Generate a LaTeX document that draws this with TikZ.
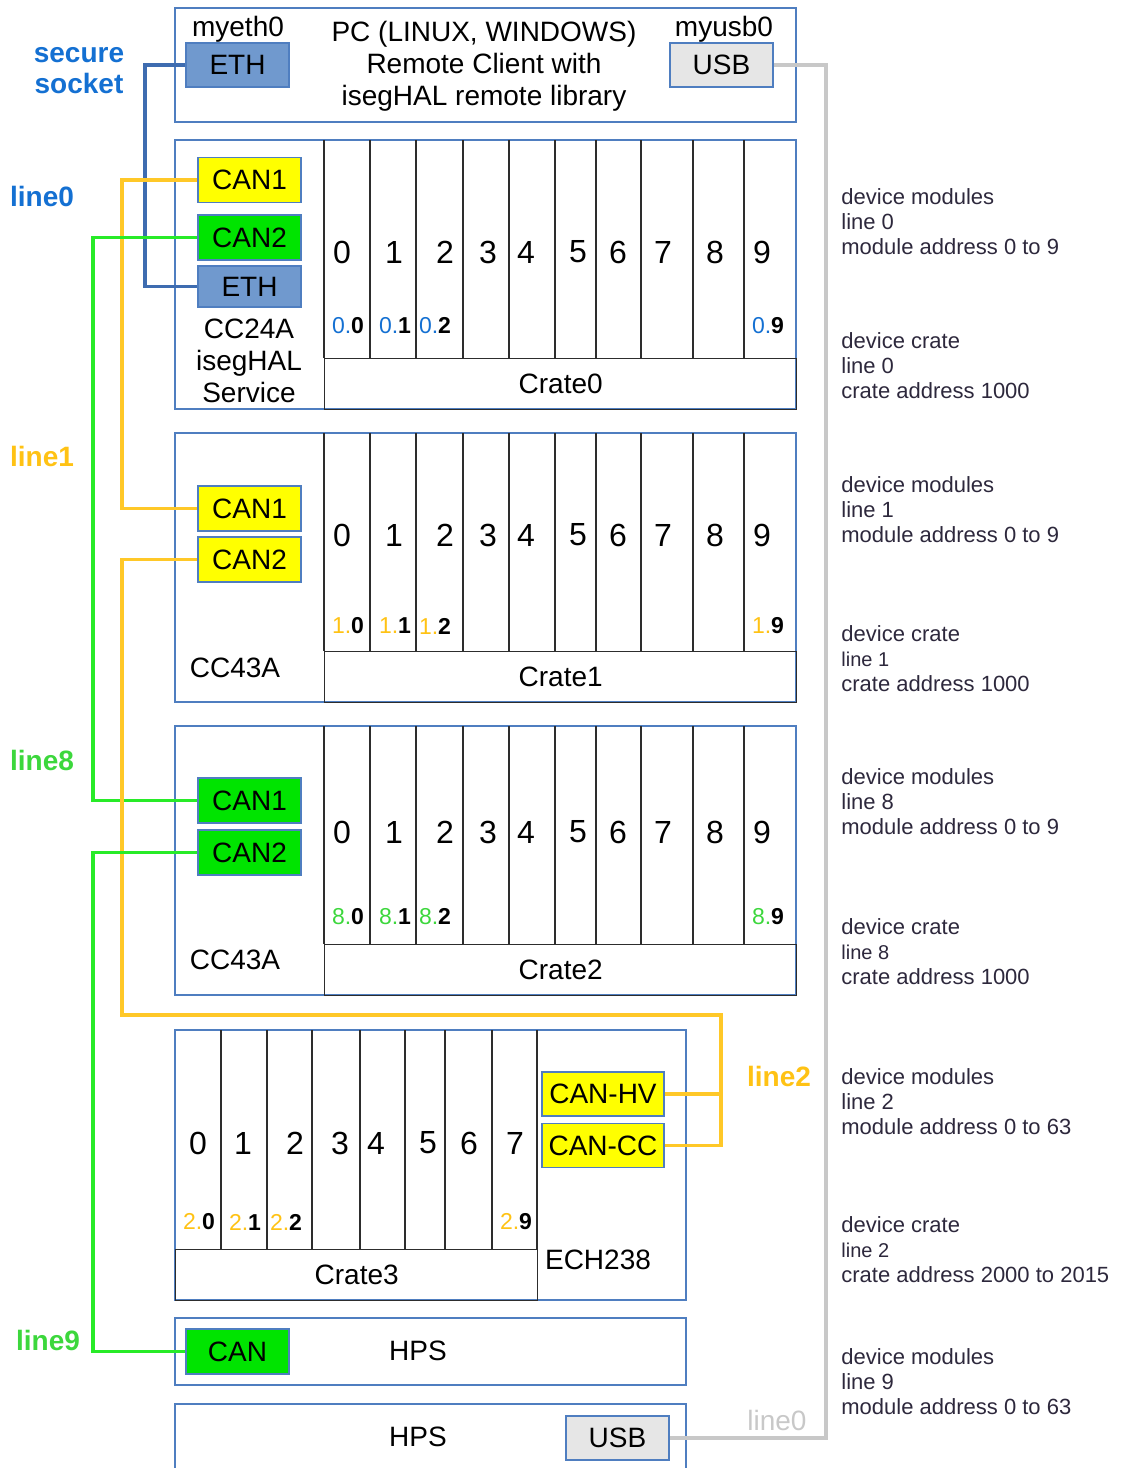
\documentclass[tikz,border=0pt]{standalone}
\usepackage{fontspec}
\setmainfont{Liberation Sans}
\usetikzlibrary{positioning}
\definecolor{frameblue}{RGB}{79,126,192}
\definecolor{ethblue}{RGB}{112,153,206}
\definecolor{wireblue}{RGB}{62,108,176}
\definecolor{canyellow}{RGB}{255,255,0}
\definecolor{cangreen}{RGB}{0,228,0}
\definecolor{wireyellow}{RGB}{255,200,40}
\definecolor{wiregreen}{RGB}{40,235,40}
\definecolor{usbgray}{RGB}{230,230,230}
\definecolor{wiregray}{RGB}{200,200,200}
\definecolor{labelblue}{RGB}{20,112,210}
\definecolor{textyellow}{RGB}{255,194,20}
\definecolor{textgreen}{RGB}{60,215,60}
\definecolor{slotgray}{RGB}{45,45,45}
\definecolor{notegray}{RGB}{45,40,60}

\begin{document}
\begin{tikzpicture}[x=0.5pt, y=-0.5pt,
    port/.style={draw=frameblue, line width=0.8pt, minimum width=51.5pt, minimum height=22.5pt,
                 inner sep=0pt, font=\fontsize{14}{14}\selectfont},
    yport/.style={port, fill=canyellow},
    gport/.style={port, fill=cangreen},
    eport/.style={port, fill=ethblue},
    uport/.style={port, fill=usbgray},
    frame/.style={draw=frameblue, line width=0.6pt},
    slot/.style={draw=slotgray, line width=0.7pt},
    wire/.style={line width=1.9pt},
    txt/.style={font=\fontsize{14}{16}\selectfont, align=center, inner sep=0pt},
    digit/.style={font=\fontsize{16}{16}\selectfont, inner sep=0pt},
    addr/.style={font=\fontsize{11.5}{12}\selectfont, inner sep=0pt},
    note/.style={font=\fontsize{11}{12.5}\selectfont, text=notegray, align=left, anchor=north west, inner sep=0pt},
    tag/.style={font=\bfseries\fontsize{14}{15.5}\selectfont, align=center, inner sep=0pt}]
    \useasboundingbox (0,0) rectangle (1120,1468);

    % frames
    \draw[frame] (175,8) rectangle (796,122);
    \draw[frame] (175,140) rectangle (796,409);
    \draw[frame] (175,433) rectangle (796,702);
    \draw[frame] (175,726) rectangle (796,995);
    \draw[frame] (175,1030) rectangle (686,1300);
    \draw[frame] (175,1318) rectangle (686,1385);
    \draw[frame] (175,1404) rectangle (686,1490);

    % crates with ten slots
    \foreach \top/\dy/\sy/\lab/\col/\pre in {140/252/326/Crate0/labelblue/0,
        433/535/626/Crate1/textyellow/1, 726/832/917/Crate2/textgreen/8} {
      \foreach \x in {324,370,416,463,509,555,596,641,693,744}
        \draw[slot] (\x,\top) -- (\x,\top+218);
      \node[slot, anchor=north west, minimum width=236pt, minimum height=25.5pt, inner sep=0pt,
            font=\fontsize{14}{14}\selectfont] (\lab) at (324,\top+218) {\lab};
      \foreach \d/\x in {0/342,1/394,2/445,3/488,4/526,5/578,6/618,7/663,8/715,9/762}
        \node[digit] (d\pre\d) at (\x,\dy) {\d};
      \foreach \s/\x in {0/348,1/395,2/435,9/768}
        \node[addr] (a\pre\s) at (\x,\sy) {{\color{\col}\pre.}\textbf{\s}};
    }

    % crate with eight slots
    \foreach \x in {221,267,312,360,405,445,492,537}
      \draw[slot] (\x,1030) -- (\x,1249);
    \node[slot, anchor=north west, minimum width=181pt, minimum height=25.5pt, inner sep=0pt,
          font=\fontsize{14}{14}\selectfont] (Crate3) at (175,1249) {Crate3};
    \foreach \d/\x in {0/198,1/243,2/295,3/340,4/376,5/428,6/469,7/515}
      \node[digit] (d2\d) at (\x,1143) {\d};
    \foreach \s/\x in {0/199,1/245,2/286,9/516}
      \node[addr] (a2\s) at (\x,1222) {{\color{textyellow}2.}\textbf{\s}};

    % texts in the boxes
    \node[txt] (pc) at (484,66) {PC (LINUX, WINDOWS)\\Remote Client with\\isegHAL remote library};
    \node[txt] (myeth) at (238,29) {myeth0};
    \node[txt] (myusb) at (724,29) {myusb0};
    \node[txt] (cc24) at (249,361) {CC24A\\isegHAL\\Service};
    \node[txt] (cc43a) at (235,668) {CC43A};
    \node[txt] (cc43b) at (235,960) {CC43A};
    \node[txt] (ech) at (598,1260) {ECH238};
    \node[txt] (hpsa) at (418,1351) {HPS};
    \node[txt] (hpsb) at (418,1437) {HPS};

    % ports
    \node[eport, minimum height=22pt] (pceth) at (237.5,65) {ETH};
    \node[uport, minimum height=22pt] (pcusb) at (721.5,65) {USB};
    \node[yport] (c0can1) at (249.5,180) {CAN1};
    \node[gport] (c0can2) at (249.5,237.5) {CAN2};
    \node[eport, minimum height=20.5pt] (c0eth) at (249.5,286.5) {ETH};
    \node[yport] (c1can1) at (249.5,508.5) {CAN1};
    \node[yport] (c1can2) at (249.5,559.5) {CAN2};
    \node[gport] (c2can1) at (249.5,800.5) {CAN1};
    \node[gport] (c2can2) at (249.5,852.5) {CAN2};
    \node[yport, minimum width=61pt, minimum height=22pt] (c3hv) at (603,1094) {CAN-HV};
    \node[yport, minimum width=61pt, minimum height=22pt] (c3cc) at (603,1145.5) {CAN-CC};
    \node[gport] (hpscan) at (237.5,1351.5) {CAN};
    \node[uport, minimum height=22pt] (hpsusb) at (617.5,1438) {USB};

    % wires
    \coordinate (bend2) at (721,1015);
    \draw[wire, wireblue] (pceth.west) -- ++(-40,0) |- (c0eth.west);
    \draw[wire, wireyellow] (c0can1.west) -- ++(-75,0) |- (c1can1.west);
    \draw[wire, wiregreen] (c0can2.west) -- ++(-104,0) |- (c2can1.west);
    \draw[wire, wireyellow] (c1can2.west) -- ++(-75,0) |- (bend2) |- (c3cc.east);
    \draw[wire, wireyellow] (c3hv.east) -- (c3hv.east -| bend2);
    \draw[wire, wiregreen] (c2can2.west) -- ++(-104,0) |- (hpscan.west);
    \draw[wire, wiregray] (pcusb.east) -- ++(52,0) |- (hpsusb.east);

    % line tags
    \node[tag, text=labelblue] (secure) at (79,71) {secure\\socket};
    \node[tag, text=labelblue] (tag0) at (42,196) {line0};
    \node[tag, text=textyellow] (tag1) at (42,456) {line1};
    \node[tag, text=textgreen] (tag8) at (42,760) {line8};
    \node[tag, text=textgreen] (tag9) at (48,1340) {line9};
    \node[tag, text=textyellow] (tag2) at (779,1076) {line2};
    \node[txt, text=wiregray] (tagusb) at (777,1420) {line0};

    % notes
    \node[note] (n0m) at (841,188) {device modules\\line 0\\module address 0 to 9};
    \node[note] (n0c) at (841,332) {device crate\\line 0\\crate address 1000};
    \node[note] (n1m) at (841,476) {device modules\\line 1\\module address 0 to 9};
    \node[note] (n1c) at (841,625) {device crate\\{\fontsize{10}{12.5}\selectfont line 1}\\crate address 1000};
    \node[note] (n8m) at (841,768) {device modules\\line 8\\module address 0 to 9};
    \node[note] (n8c) at (841,918) {device crate\\{\fontsize{10}{12.5}\selectfont line 8}\\crate address 1000};
    \node[note] (n2m) at (841,1068) {device modules\\line 2\\module address 0 to 63};
    \node[note] (n2c) at (841,1216) {device crate\\{\fontsize{10}{12.5}\selectfont line 2}\\crate address 2000 to 2015};
    \node[note] (n9m) at (841,1348) {device modules\\line 9\\module address 0 to 63};
\end{tikzpicture}
\end{document}
